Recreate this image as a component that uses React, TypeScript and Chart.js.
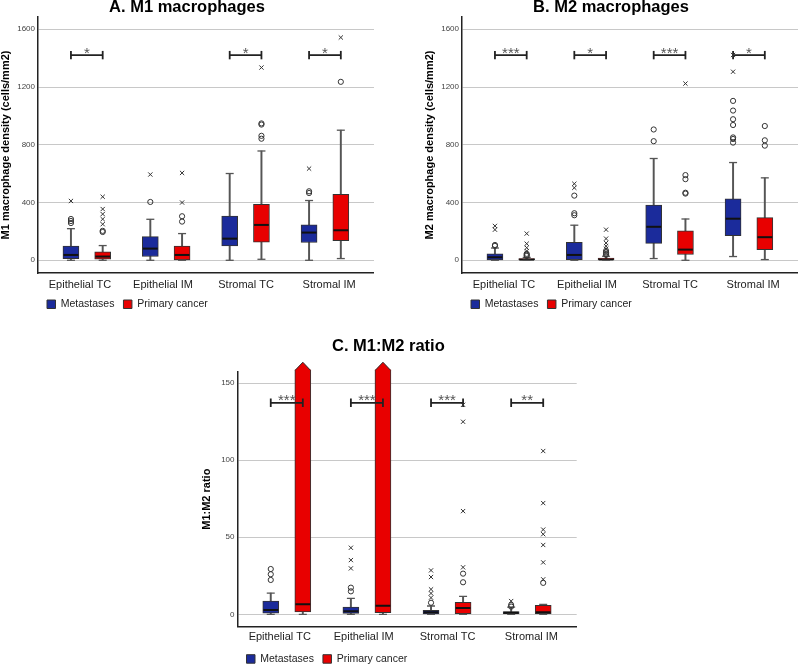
import React, { useEffect, useRef } from "react";
import { Chart, registerables } from "chart.js";

Chart.register(...registerables);
Chart.defaults.font.family = 'Arial, "Liberation Sans", Helvetica, sans-serif';

// ---------- shared ----------
const categories = ["Epithelial TC", "Epithelial IM", "Stromal TC", "Stromal IM"];
const seriesNames = ["Metastases", "Primary cancer"];
const seriesColors = ["#1b2b9b", "#e80000"];

// ---------- Panel A: M1 macrophage density (cells/mm2) ----------
const m1TicksY = [0, 400, 800, 1200, 1600];
const m1Significance = ["*", "", "*", "*"];
const m1MetMin = [0, 0, 0, 0];
const m1MetQ1 = [12, 26, 99, 123];
const m1MetMedian = [37, 81, 150, 192];
const m1MetQ3 = [99, 164, 307, 245];
const m1MetMax = [219, 284, 601, 414];
const m1MetOutliers = [[258, 272, 286], [404], [], [466, 478]];
const m1MetExtremes = [[411], [594], [], [635]];
const m1PrimMin = [0, 0, 7, 12];
const m1PrimQ1 = [7, 2, 125, 136];
const m1PrimMedian = [26, 37, 245, 208];
const m1PrimQ3 = [58, 99, 388, 457];
const m1PrimMax = [102, 185, 757, 901];
const m1PrimOutliers = [[196, 204], [268, 305], [842, 862, 940, 948], [1236]];
const m1PrimExtremes = [[250, 285, 320, 355, 440], [400, 605], [1335], [1543]];

// ---------- Panel B: M2 macrophage density (cells/mm2) ----------
const m2TicksY = [0, 400, 800, 1200, 1600];
const m2Significance = ["***", "*", "***", "*"];
const m2MetMin = [0, 0, 12, 26];
const m2MetQ1 = [3, 5, 117, 170];
const m2MetMedian = [21, 37, 232, 288];
const m2MetQ3 = [45, 125, 383, 425];
const m2MetMax = [85, 243, 705, 677];
const m2MetOutliers = [[100, 106], [312, 326, 448], [825, 906], [815, 840, 851, 937, 977, 1037, 1104]];
const m2MetExtremes = [[212, 238], [502, 530], [], [1306, 1422]];
const m2PrimMin = [0, 0, 0, 5];
const m2PrimQ1 = [0, 0, 40, 74];
const m2PrimMedian = [5, 6, 74, 160];
const m2PrimQ3 = [12, 16, 204, 295];
const m2PrimMax = [20, 28, 286, 571];
const m2PrimOutliers = [[30, 37, 45], [38, 45, 55, 65], [462, 468, 562, 590], [794, 831, 930]];
const m2PrimExtremes = [[64, 87, 115, 185], [80, 98, 120, 150, 212], [1224], []];

// ---------- Panel C: M1:M2 ratio ----------
const ratioTicksY = [0, 50, 100, 150];
const ratioSignificance = ["***", "***", "***", "**"];
const ratioMetMin = [0, 0, 0, 0];
const ratioMetQ1 = [0.8, 0.6, 0.2, 0.4];
const ratioMetMedian = [2.8, 1.9, 1.3, 1.0];
const ratioMetQ3 = [8.6, 4.7, 2.6, 1.7];
const ratioMetMax = [13.8, 10.4, 5.4, 4.7];
const ratioMetOutliers = [[22.3, 26, 29.4], [14.9, 17.3], [7.5], [5, 6]];
const ratioMetExtremes = [[], [29.8, 35.2, 43.2], [10.8, 13.6, 16.2, 24.2, 28.5], [8.6]];
const ratioPrimMin = [0, 0, 0, 0];
const ratioPrimQ1 = [1.5, 1.0, 0.4, 0.4];
const ratioPrimMedian = [6.5, 5.6, 4.1, 1.3];
const ratioPrimQ3 = [210, 210, 7.8, 5.8];
const ratioPrimMax = [null, null, 11.7, 6.5];
const ratioPrimOutliers = [[], [], [20.8, 26.4], [20.4]];
const ratioPrimExtremes = [[], [], [30.5, 67, 125, 136], [22.7, 33.7, 45, 52, 55, 72.2, 106]];

type Stats = {
  min: (number | null)[];
  q1: number[];
  med: number[];
  q3: number[];
  max: (number | null)[];
  out: number[][];
  ext: number[][];
};

const GROUP_OFFSET = 0.2;

function buildDatasets(series: Stats[], sig: string[], level: number) {
  const boxes: any[] = [];
  const rest: any[] = [];
  series.forEach((s, si) => {
    const shift = si === 0 ? -GROUP_OFFSET : GROUP_OFFSET;
    const xAt = (i: number) => i + 1 + shift;
    boxes.push({
      type: "bar",
      label: seriesNames[si],
      data: categories.map((_, i) => ({ x: xAt(i), y: [s.q1[i], s.q3[i]] })),
      backgroundColor: seriesColors[si],
      borderColor: "#333",
      borderWidth: 1,
      borderSkipped: false,
      barThickness: 16,
      grouped: false,
      order: 3,
      clip: { left: 0, top: 2, right: 0, bottom: 0 },
      isBox: true,
    });
    rest.push({
      type: "bar",
      label: seriesNames[si] + " whisker",
      data: categories.map((_, i) => ({ x: xAt(i), y: [s.min[i] ?? s.q1[i], s.max[i] ?? s.q1[i]] })),
      backgroundColor: "#555",
      borderWidth: 0,
      barThickness: 1.3,
      grouped: false,
      order: 5,
    });
    const caps: any[] = [];
    categories.forEach((_, i) => {
      if (s.min[i] != null) caps.push({ x: xAt(i), y: s.min[i] });
      if (s.max[i] != null) caps.push({ x: xAt(i), y: s.max[i] });
    });
    rest.push({
      type: "scatter",
      label: seriesNames[si] + " caps",
      data: caps,
      pointStyle: "line",
      pointRadius: 4,
      pointHoverRadius: 4,
      pointBorderColor: "#555",
      pointBorderWidth: 1.3,
      order: 1,
    });
    rest.push({
      type: "scatter",
      label: seriesNames[si] + " median",
      data: categories.map((_, i) => ({ x: xAt(i), y: s.med[i] })),
      pointStyle: "line",
      pointRadius: 7.4,
      pointHoverRadius: 7.4,
      pointBorderColor: "#111",
      pointBorderWidth: 2,
      order: 1,
    });
    rest.push({
      type: "scatter",
      label: seriesNames[si] + " outliers",
      data: s.out.flatMap((arr, i) => arr.map((v) => ({ x: xAt(i), y: v }))),
      pointStyle: "circle",
      pointRadius: 2.6,
      pointHoverRadius: 2.6,
      pointBackgroundColor: "rgba(255,255,255,0)",
      pointBorderColor: "#333",
      pointBorderWidth: 1,
      order: 0,
    });
    rest.push({
      type: "scatter",
      label: seriesNames[si] + " extremes",
      data: s.ext.flatMap((arr, i) => arr.map((v) => ({ x: xAt(i), y: v }))),
      pointStyle: "crossRot",
      pointRadius: 3,
      pointHoverRadius: 3,
      pointBorderColor: "#333",
      pointBorderWidth: 1,
      order: 0,
    });
  });
  sig.forEach((s, i) => {
    if (!s) return;
    rest.push({
      type: "line",
      label: "bracket " + i,
      data: [
        { x: i + 1 - GROUP_OFFSET, y: level },
        { x: i + 1 + GROUP_OFFSET, y: level },
      ],
      borderColor: "#222",
      borderWidth: 1.8,
      pointStyle: "line",
      pointRotation: 90,
      pointRadius: 4.2,
      pointHoverRadius: 4.2,
      pointBorderColor: "#222",
      pointBorderWidth: 1.8,
      fill: false,
      order: 0,
    });
  });
  return [...boxes, ...rest];
}

const annotPlugin = {
  id: "boxAnnot",
  afterDatasetsDraw(chart: any, _args: any, opts: any) {
    const { ctx, chartArea, scales } = chart;
    const xs = scales.x;
    const ys = scales.y;
    // arrow tips for boxes running past the axis
    chart.data.datasets.forEach((ds: any, di: number) => {
      if (!ds.isBox) return;
      const meta = chart.getDatasetMeta(di);
      meta.data.forEach((bar: any, i: number) => {
        const hi = ds.data[i].y[1];
        if (hi <= ys.max) return;
        const { x, width } = bar.getProps(["x", "width"], true);
        const top = chartArea.top - 2;
        ctx.save();
        ctx.beginPath();
        ctx.moveTo(x - width / 2, top + 0.5);
        ctx.lineTo(x, top - 7.5);
        ctx.lineTo(x + width / 2, top + 0.5);
        ctx.closePath();
        ctx.fillStyle = ds.backgroundColor;
        ctx.fill();
        ctx.beginPath();
        ctx.moveTo(x - width / 2 + 0.5, top + 0.5);
        ctx.lineTo(x, top - 7.5);
        ctx.lineTo(x + width / 2 - 0.5, top + 0.5);
        ctx.strokeStyle = ds.borderColor;
        ctx.lineWidth = 1;
        ctx.stroke();
        ctx.restore();
      });
    });
    // significance stars
    const stars: string[] = opts.stars || [];
    ctx.save();
    ctx.font = '15px Arial, "Liberation Sans", sans-serif';
    ctx.fillStyle = "#555";
    ctx.textAlign = "center";
    ctx.textBaseline = "alphabetic";
    stars.forEach((s, i) => {
      if (!s) return;
      ctx.fillText(s, xs.getPixelForValue(i + 1), ys.getPixelForValue(opts.level) + 2.5);
    });
    ctx.restore();
  },
};

type Layout = {
  yWidth: number;
  titlePad: { top: number; bottom: number };
  yTitlePad: number;
  xHeight: number;
  xPad: number;
  padRight: number;
  padBottom: number;
};

function makeConfig(
  title: string,
  yTitle: string,
  yMin: number,
  yMax: number,
  yTicks: number[],
  sig: string[],
  level: number,
  series: Stats[],
  L: Layout
): any {
  return {
    type: "bar",
    data: { datasets: buildDatasets(series, sig, level) },
    plugins: [annotPlugin],
    options: {
      responsive: false,
      animation: false,
      events: [],
      devicePixelRatio: 1,
      layout: { autoPadding: false, padding: { left: 0, top: 0, right: L.padRight, bottom: L.padBottom } },
      plugins: {
        tooltip: { enabled: false },
        title: {
          display: true,
          text: title,
          color: "#000",
          font: { size: 16.5, weight: "bold", lineHeight: 0.9 },
          padding: L.titlePad,
        },
        legend: {
          display: true,
          position: "bottom",
          align: "start",
          fullSize: false,
          labels: {
            boxWidth: 8.5,
            boxHeight: 8.5,
            padding: 9,
            color: "#222",
            font: { size: 10.5 },
            filter: (item: any) => item.datasetIndex < 2,
          },
        },
        boxAnnot: { stars: sig, level },
      },
      scales: {
        x: {
          type: "linear",
          min: 0.385,
          max: 4.618,
          offset: false,
          display: false,
        },
        xl: {
          type: "linear",
          axis: "x",
          position: "bottom",
          min: 0.495,
          max: 4.54,
          offset: false,
          afterBuildTicks: (s: any) => {
            s.ticks = categories.map((_, i) => ({ value: i + 1 }));
          },
          afterFit: (s: any) => {
            s.height = L.xHeight;
          },
          ticks: {
            callback: (_v: any, i: number) => categories[i],
            autoSkip: false,
            maxRotation: 0,
            font: { size: 11, lineHeight: 1 },
            color: "#222",
            padding: L.xPad,
          },
          grid: { display: false, drawTicks: false },
          border: { display: true, color: "#222", width: 1.5 },
        },
        y: {
          type: "linear",
          min: yMin,
          max: yMax,
          afterBuildTicks: (s: any) => {
            s.ticks = yTicks.map((v) => ({ value: v }));
          },
          afterFit: (s: any) => {
            s.width = L.yWidth;
          },
          ticks: {
            font: { size: 8 },
            color: "#444",
            padding: 3,
            callback: (v: any) => String(v),
          },
          grid: { color: "#c8c8c8", lineWidth: 1, drawTicks: false },
          border: { display: true, color: "#222", width: 1.5 },
          title: {
            display: true,
            text: yTitle,
            color: "#000",
            font: { size: 11, weight: "bold", lineHeight: 1 },
            padding: { top: L.yTitlePad, bottom: 0 },
          },
        },
      },
    },
  };
}

const m1Series: Stats[] = [
  { min: m1MetMin, q1: m1MetQ1, med: m1MetMedian, q3: m1MetQ3, max: m1MetMax, out: m1MetOutliers, ext: m1MetExtremes },
  { min: m1PrimMin, q1: m1PrimQ1, med: m1PrimMedian, q3: m1PrimQ3, max: m1PrimMax, out: m1PrimOutliers, ext: m1PrimExtremes },
];
const m2Series: Stats[] = [
  { min: m2MetMin, q1: m2MetQ1, med: m2MetMedian, q3: m2MetQ3, max: m2MetMax, out: m2MetOutliers, ext: m2MetExtremes },
  { min: m2PrimMin, q1: m2PrimQ1, med: m2PrimMedian, q3: m2PrimQ3, max: m2PrimMax, out: m2PrimOutliers, ext: m2PrimExtremes },
];
const ratioSeries: Stats[] = [
  { min: ratioMetMin, q1: ratioMetQ1, med: ratioMetMedian, q3: ratioMetQ3, max: ratioMetMax, out: ratioMetOutliers, ext: ratioMetExtremes },
  { min: ratioPrimMin, q1: ratioPrimQ1, med: ratioPrimMedian, q3: ratioPrimQ3, max: ratioPrimMax, out: ratioPrimOutliers, ext: ratioPrimExtremes },
];

const topLayout: Layout = {
  yWidth: 38,
  titlePad: { top: 0.5, bottom: 1.65 },
  yTitlePad: 0,
  xHeight: 17,
  xPad: 6,
  padRight: 0,
  padBottom: 0.5,
};
const bottomLayout: Layout = {
  yWidth: 37.5,
  titlePad: { top: 9.5, bottom: 17.35 },
  yTitlePad: 1.5,
  xHeight: 18,
  xPad: 5,
  padRight: 15.3,
  padBottom: 0.8,
};

function Panel({ cfg, left, top, width, height }: { cfg: () => any; left: number; top: number; width: number; height: number }) {
  const ref = useRef<HTMLCanvasElement | null>(null);
  useEffect(() => {
    if (!ref.current) return;
    const chart = new Chart(ref.current, cfg());
    return () => chart.destroy();
  }, []);
  return (
    <canvas
      ref={ref}
      width={width}
      height={height}
      style={{ position: "absolute", left, top, width, height }}
    />
  );
}

export default function App() {
  return (
    <div
      style={{
        position: "fixed",
        left: 0,
        top: 0,
        width: 798,
        height: 665,
        overflow: "hidden",
        background: "#fff",
      }}
    >
      <Panel
        left={0}
        top={0}
        width={374}
        height={320}
        cfg={() =>
          makeConfig("A. M1 macrophages", "M1 macrophage density (cells/mm2)", -88, 1685, m1TicksY, m1Significance, 1421, m1Series, topLayout)
        }
      />
      <Panel
        left={424}
        top={0}
        width={374}
        height={320}
        cfg={() =>
          makeConfig("B. M2 macrophages", "M2 macrophage density (cells/mm2)", -88, 1685, m2TicksY, m2Significance, 1421, m2Series, topLayout)
        }
      />
      <Panel
        left={200}
        top={330}
        width={392}
        height={345}
        cfg={() =>
          makeConfig("C. M1:M2 ratio", "M1:M2 ratio", -8.05, 157.5, ratioTicksY, ratioSignificance, 137.3, ratioSeries, bottomLayout)
        }
      />
    </div>
  );
}
